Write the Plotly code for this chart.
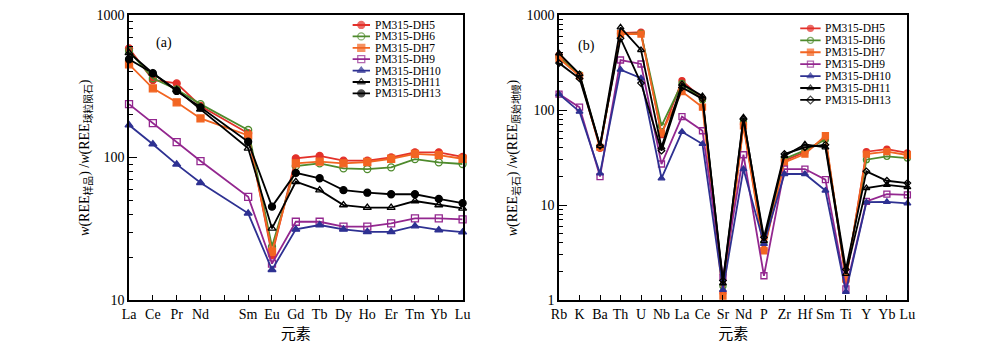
import plotly.graph_objects as go

# ---------------- data ----------------
series = ["PM315-DH5", "PM315-DH6", "PM315-DH7", "PM315-DH9", "PM315-DH10", "PM315-DH11", "PM315-DH13"]

# panel (a): chondrite-normalised REE (Pm position left blank)
elements_a = ["La", "Ce", "Pr", "Nd", "", "Sm", "Eu", "Gd", "Tb", "Dy", "Ho", "Er", "Tm", "Yb", "Lu"]
dh5_a  = [583, 350, 331, 230, None, 148, 20.7, 98.6, 102.5, 95, 95, 100, 108.7, 108.7, 101]
dh6_a  = [560, 360, 300, 237, None, 156, 23.7, 87, 91, 84, 83, 85.3, 97.5, 92.5, 90]
dh7_a  = [451, 306, 244, 188, None, 143, 21.8, 91, 93.5, 91, 93, 98, 106, 104, 98]
dh9_a  = [237, 174, 128, 94.4, None, 53, 18, 35.4, 35.4, 32.7, 32.7, 34.5, 37.4, 37.4, 36.8]
dh10_a = [169, 124, 89.5, 66.5, None, 40.6, 16.3, 31.3, 33.6, 31.3, 30.1, 30.1, 33, 31, 29.9]
dh11_a = [543, 390, 298, 218, None, 116, 31.8, 67.6, 59, 46.4, 44.5, 44.5, 49.5, 46.4, 44]
dh13_a = [489, 390, 293, 225, None, 129, 45.2, 78, 71.5, 59, 56.6, 55.2, 55.2, 51.2, 47.8]

# panel (b): primitive-mantle-normalised trace elements
elements_b = ["Rb", "K", "Ba", "Th", "U", "Nb", "La", "Ce", "Sr", "Nd", "P", "Zr", "Hf", "Sm", "Ti", "Y", "Yb", "Lu"]
dh5_b  = [379, 233, 39.5, 646, 660, 55, 204, 130, 1.2, 71, 3.4, 29.3, 36, 51, 1.6, 36.4, 38.8, 35.3]
dh6_b  = [359, 236, 41, 631, 640, 68, 190, 128, 1.4, 75, 4.0, 30.6, 37.6, 49, 1.75, 30, 32.5, 31.2]
dh7_b  = [350, 228, 40.5, 635, 630, 57, 156, 107, 1.1, 68, 3.3, 28.1, 34.4, 53.6, 1.66, 34.4, 36.4, 33.6]
dh9_b  = [147, 107, 19.9, 336, 305, 27, 85, 60.5, 1.73, 33.8, 1.8, 23.9, 23.9, 18.5, 1.31, 10.9, 13, 12.8]
dh10_b = [147, 96, 21.5, 266, 216, 19.1, 59, 43.9, 1.28, 23.9, 3.9, 21.2, 21.2, 14.2, 1.22, 10.7, 10.8, 10.4]
dh11_b = [395, 239, 42, 741, 428, 40.5, 188, 140, 1.5, 83.8, 4.2, 33, 43.5, 40.5, 1.88, 15.1, 16.3, 15.4]
dh13_b = [312, 215, 42, 568, 192, 37.3, 173, 131, 1.6, 80, 4.57, 34.4, 40.5, 43, 2.1, 22.6, 18, 17]

values_a = [dh5_a, dh6_a, dh7_a, dh9_a, dh10_a, dh11_a, dh13_a]
values_b = [dh5_b, dh6_b, dh7_b, dh9_b, dh10_b, dh11_b, dh13_b]

# ---------------- styles ----------------
colors = ["#e3312a", "#4e8a2c", "#f26522", "#93278f", "#2e3192", "#000000", "#000000"]
symbols_a = ["circle", "circle-open", "square", "square-open", "triangle-up", "triangle-up-open", "circle"]
symbols_b = ["circle", "circle-open", "square", "square-open", "triangle-up", "triangle-up-open", "diamond-open"]

SERIF = "Liberation Serif, Times New Roman, serif"
CJK = "Noto Sans CJK SC, sans-serif"

fig = go.Figure()

for name, vals, c, s in zip(series, values_a, colors, symbols_a):
    fig.add_trace(go.Scatter(
        x=list(range(len(elements_a))), y=vals, mode="lines+markers", name=name,
        connectgaps=True, cliponaxis=False, showlegend=False,
        line=dict(color=c, width=1.8),
        marker=dict(symbol=s, size=7, color=c, line=dict(color=c, width=1.3)),
        xaxis="x", yaxis="y"))

for name, vals, c, s in zip(series, values_b, colors, symbols_b):
    fig.add_trace(go.Scatter(
        x=list(range(len(elements_b))), y=vals, mode="lines+markers", name=name,
        cliponaxis=False, showlegend=False,
        line=dict(color=c, width=1.8),
        marker=dict(symbol=s, size=6 if s != "diamond-open" else 5, color=c, line=dict(color=c, width=1.3)),
        xaxis="x2", yaxis="y2"))

# custom compact legends (rows indexed by series order on hidden axes)
annotations = []
for i, (name, c) in enumerate(zip(series, colors)):
    fig.add_trace(go.Scatter(
        x=[0, 0.5, 1], y=[i, i, i], mode="lines+markers", showlegend=False, hoverinfo="skip",
        line=dict(color=c, width=1.8), cliponaxis=False,
        marker=dict(symbol=symbols_a[i], size=[0, 7, 0], color=c, line=dict(color=c, width=1.3)),
        xaxis="x3", yaxis="y3"))
    fig.add_trace(go.Scatter(
        x=[0, 0.5, 1], y=[i, i, i], mode="lines+markers", showlegend=False, hoverinfo="skip",
        line=dict(color=c, width=1.8), cliponaxis=False,
        marker=dict(symbol=symbols_b[i], size=[0, 6, 0], color=c, line=dict(color=c, width=1.3)),
        xaxis="x4", yaxis="y4"))
    annotations.append(dict(x=0.371, y=i, xref="paper", yref="y3", text=name, showarrow=False,
                            xanchor="left", yanchor="middle", font=dict(family=SERIF, size=11.5, color="black")))
    annotations.append(dict(x=0.828, y=i, xref="paper", yref="y4", text=name, showarrow=False,
                            xanchor="left", yanchor="middle", font=dict(family=SERIF, size=11.5, color="black")))

annotations += [
    dict(x=0.148, y=0.937, xref="paper", yref="paper", text="(a)", showarrow=False,
         font=dict(family=SERIF, size=14, color="black")),
    dict(x=0.588, y=0.926, xref="paper", yref="paper", text="(b)", showarrow=False,
         font=dict(family=SERIF, size=14, color="black")),
    dict(x=0.068, y=0.50, xref="paper", yref="paper", textangle=-90, showarrow=False,
         text="<i>w</i>(REE<sub>样品</sub>) /<i>w</i>(REE<sub>球粒陨石</sub>)",
         font=dict(family=SERIF + ", " + CJK, size=14, color="black")),
    dict(x=0.514, y=0.50, xref="paper", yref="paper", textangle=-90, showarrow=False,
         text="<i>w</i>(REE<sub>岩石</sub>) /<i>w</i>(REE<sub>原始地幔</sub>)",
         font=dict(family=SERIF + ", " + CJK, size=14, color="black")),
]

def minor_vals(lo, hi):
    return [k * 10 ** d for d in range(lo, hi) for k in range(2, 10)]

axis_common = dict(showline=True, linecolor="black", linewidth=1.6, mirror=True,
                   showgrid=False, zeroline=False, ticks="inside", tickcolor="black",
                   tickfont=dict(family=SERIF, size=14, color="black"))

fig.update_layout(
    width=1000, height=353,
    margin=dict(l=0, r=0, t=15, b=53),
    paper_bgcolor="white", plot_bgcolor="white",
    showlegend=False,
    xaxis=dict(domain=[0.123, 0.462], range=[0, len(elements_a) - 1],
               tickmode="array", tickvals=list(range(len(elements_a))), ticktext=elements_a,
               ticklen=5, tickwidth=1, anchor="y",
               title=dict(text="元素", font=dict(family=CJK, size=15, color="black"), standoff=8),
               **axis_common),
    yaxis=dict(domain=[0, 1], type="log", range=[1, 3], anchor="x",
               tickmode="array", tickvals=[10, 100, 1000], ticktext=["10", "100", "1000"],
               ticklen=8, tickwidth=1,
               minor=dict(tickmode="array", tickvals=minor_vals(1, 3), ticks="inside",
                          ticklen=4, tickcolor="black", tickwidth=1, showgrid=False),
               **axis_common),
    xaxis2=dict(domain=[0.560, 0.914], range=[0, len(elements_b) - 1],
                tickmode="array", tickvals=list(range(len(elements_b))), ticktext=elements_b,
                ticklen=5, tickwidth=1, anchor="y2",
                title=dict(text="元素", font=dict(family=CJK, size=15, color="black"), standoff=8),
                **axis_common),
    yaxis2=dict(domain=[0, 1], type="log", range=[0, 3], anchor="x2",
                tickmode="array", tickvals=[1, 10, 100, 1000], ticktext=["1", "10", "100", "1000"],
                ticklen=8, tickwidth=1,
                minor=dict(tickmode="array", tickvals=minor_vals(0, 3), ticks="inside",
                           ticklen=4, tickcolor="black", tickwidth=1, showgrid=False),
                **axis_common),
    xaxis3=dict(domain=[0.350, 0.368], range=[0, 1], visible=False, anchor="y3", fixedrange=True),
    yaxis3=dict(domain=[0.705, 0.985], range=[6.5, -0.5], visible=False, anchor="x3", fixedrange=True),
    xaxis4=dict(domain=[0.805, 0.826], range=[0, 1], visible=False, anchor="y4", fixedrange=True),
    yaxis4=dict(domain=[0.681, 0.974], range=[6.5, -0.5], visible=False, anchor="x4", fixedrange=True),
    annotations=annotations,
)

fig.write_html("out.html")
